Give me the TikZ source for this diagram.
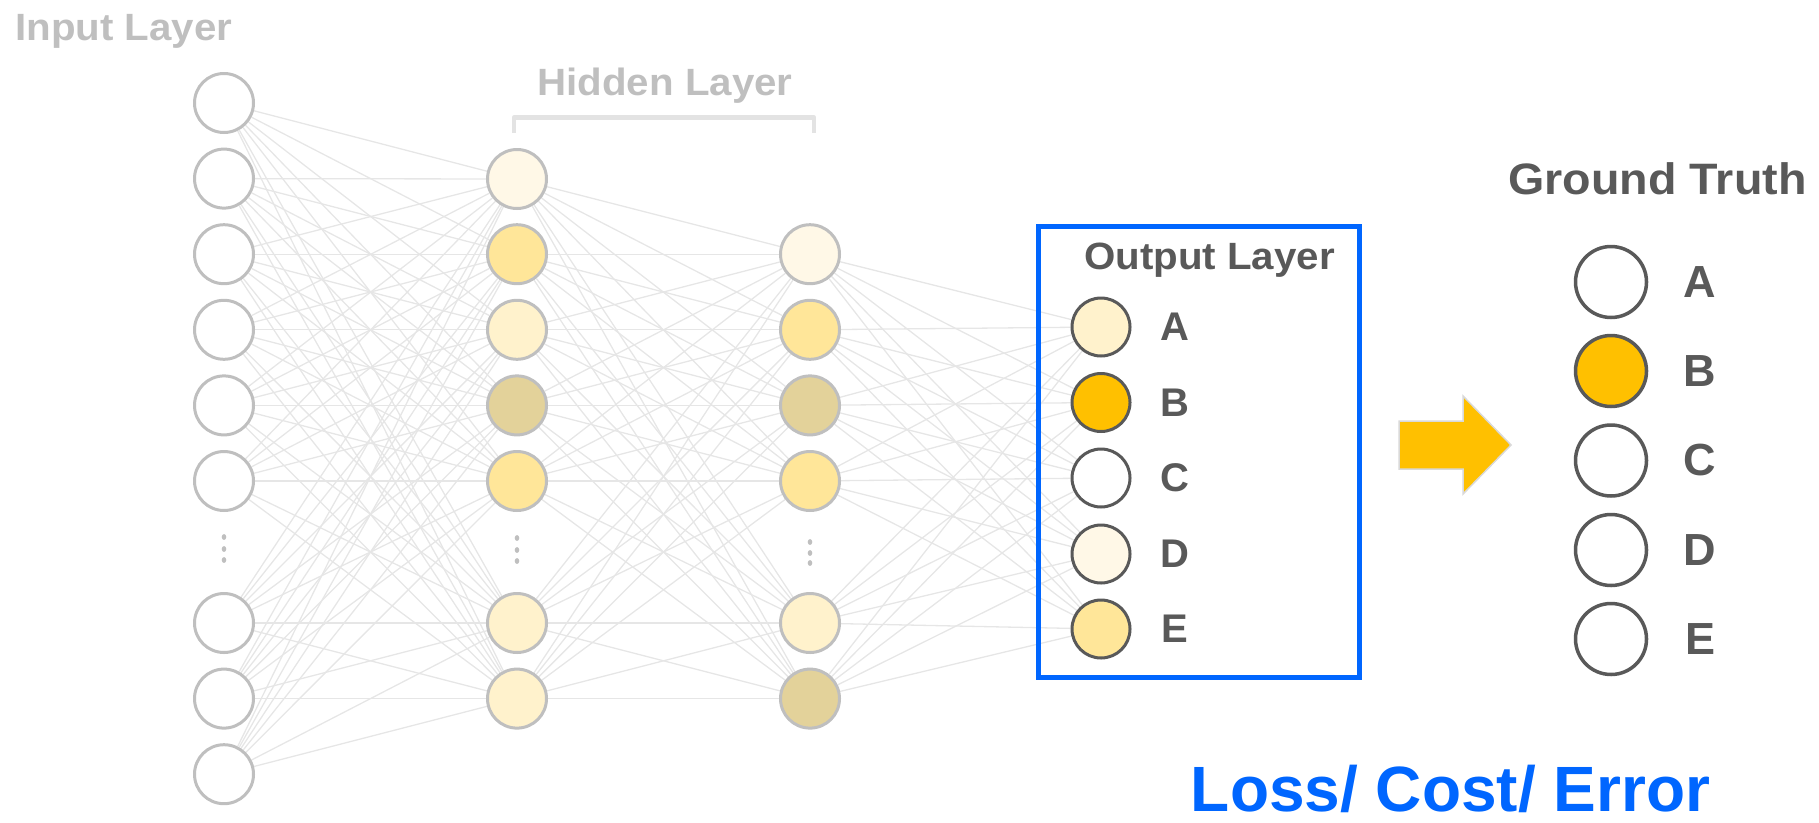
\documentclass[tikz,border=0pt]{standalone}
\usepackage{fontspec}
\setmainfont{Liberation Sans}
\newfontfamily\headfont[FakeStretch=1.06]{Liberation Sans}

\definecolor{nodegray}{HTML}{BFBFBF}
\definecolor{edgegray}{HTML}{E6E6E6}
\definecolor{inkgray}{HTML}{595959}
\definecolor{bracketgray}{HTML}{E3E3E3}
\definecolor{actpale}{HTML}{FFF8E7}
\definecolor{actlight}{HTML}{FFF2CC}
\definecolor{actmid}{HTML}{FFE699}
\definecolor{acttan}{HTML}{E3D29A}
\definecolor{gold}{HTML}{FFC000}
\definecolor{boxblue}{HTML}{0066FF}
\definecolor{arrowedge}{HTML}{D9D9D9}

\pgfdeclarelayer{background}
\pgfsetlayers{background,main}

\tikzset{
  neuron/.style={circle, draw=nodegray, line width=3pt, minimum size=59pt, inner sep=0pt, fill=white},
  outneuron/.style={circle, draw=inkgray, line width=3pt, minimum size=58pt, inner sep=0pt, fill=white},
  truthneuron/.style={circle, draw=inkgray, line width=3.5pt, minimum size=71pt, inner sep=0pt, fill=white},
  link/.style={draw=edgegray, line width=1.3pt},
  heading/.style={inner sep=0pt, font=\headfont\bfseries\fontsize{38}{38}\selectfont},
  classlabel/.style={inner sep=0pt, text=inkgray, font=\bfseries\fontsize{40}{40}\selectfont},
  truthlabel/.style={inner sep=0pt, text=inkgray, font=\bfseries\fontsize{45}{45}\selectfont},
  vdot/.style={fill=nodegray},
}

\begin{document}
\begin{tikzpicture}[x=1pt, y=-1pt]
\useasboundingbox (0,0) rectangle (1819,822);

% input layer
\foreach \y [count=\i] in {103,178.6,254.2,329.8,405.4,481,623,698.6,774.2}
  \node[neuron] (in\i) at (224,\y) {};

% first hidden layer
\foreach \y/\c [count=\i] in {179/actpale,254.2/actmid,329.8/actlight,405.4/acttan,481/actmid,623/actlight,698.6/actlight}
  \node[neuron, fill=\c] (ha\i) at (517,\y) {};

% second hidden layer
\foreach \y/\c [count=\i] in {254.2/actpale,329.8/actmid,405.4/acttan,481/actmid,623/actlight,698.6/acttan}
  \node[neuron, fill=\c] (hb\i) at (810,\y) {};

% output layer
\foreach \l/\y/\c in {A/327/actlight,B/402.5/gold,C/478/white,D/554/actpale,E/629/actmid}{
  \node[outneuron, fill=\c] (out\l) at (1101,\y) {};
  \node[classlabel] (outlab\l) at (1175,\y) {\l};
}

% ground truth
\foreach \l/\y/\c in {A/282/white,B/371/gold,C/460.5/white,D/550/white,E/639/white}{
  \node[truthneuron, fill=\c] (gt\l) at (1611,\y) {};
  \node[truthlabel] (gtlab\l) at (1700,\y) {\l};
}

% fully connected links
\begin{pgfonlayer}{background}
  \foreach \i in {1,...,9}
    \foreach \j in {1,...,7}
      \draw[link] (in\i) -- (ha\j);
  \foreach \i in {1,...,7}
    \foreach \j in {1,...,6}
      \draw[link] (ha\i) -- (hb\j);
  \foreach \i in {1,...,6}
    \foreach \l in {A,B,C,D,E}
      \draw[link] (hb\i) -- (out\l);
\end{pgfonlayer}

% ellipsis dots between neurons
\foreach \x/\ya/\yb/\yc in {224/537/549/560, 517/538/550/561, 810/542/553/563}{
  \fill[vdot] (\x,\ya) ellipse (2.3 and 2.9);
  \fill[vdot] (\x,\yb) ellipse (2.3 and 2.9);
  \fill[vdot] (\x,\yc) ellipse (2.3 and 2.9);
}

% headings
\node[heading, text=nodegray, anchor=base west] (inputtitle) at (15,40) {Input Layer};
\node[heading, text=nodegray, anchor=base] (hiddentitle) at (665,95) {Hidden Layer};
\draw[bracketgray, line width=4.5pt, line join=round] (514,133) -- (514,117.5) -- (814,117.5) -- (814,133);
\node[heading, text=inkgray, anchor=base] (outputtitle) at (1209.5,269) {Output Layer};
\node[heading, text=inkgray, anchor=base, font=\headfont\bfseries\fontsize{44}{44}\selectfont] (truthtitle) at (1657.5,194) {Ground Truth};

% output frame
\draw[boxblue, line width=5pt] (1038.5,226) rectangle (1359.5,677.5);

% block arrow
\draw[fill=gold, draw=arrowedge, line width=1.5pt, line join=miter]
  (1399,421) -- (1463,421) -- (1463,396) -- (1511,445) -- (1463,494) -- (1463,469) -- (1399,469) -- cycle;

% loss caption
\node[inner sep=0pt, anchor=base, text=boxblue, font=\bfseries\fontsize{64}{64}\selectfont] (losstext) at (1450.5,811) {Loss/ Cost/ Error};
\end{tikzpicture}
\end{document}
